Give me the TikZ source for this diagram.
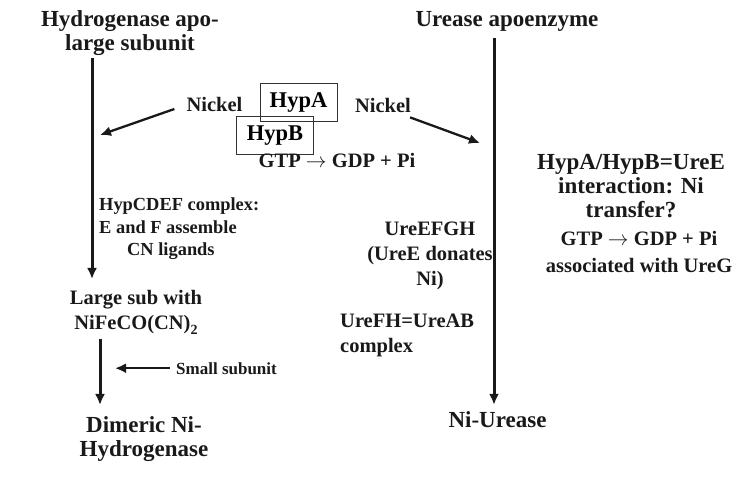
\documentclass[tikz,border=0pt]{standalone}
\usepackage{fontspec}
\setmainfont{Liberation Serif}
\usepackage{tikz}
\usetikzlibrary{arrows.meta}
\usepackage{xcolor}

\begin{document}
\begin{tikzpicture}[x=1pt,y=-1pt]

\tikzset{txt/.style = {inner sep=0pt,text=black!90}}
\tikzset{big/.style = {txt,font=\bfseries\fontsize{23}{24}\selectfont}}
\tikzset{mid/.style = {txt,font=\bfseries\fontsize{20.5}{25}\selectfont}}
\tikzset{small/.style = {txt,font=\bfseries\fontsize{18.4}{22.5}\selectfont}}
\tikzset{hyp/.style = {draw=black!80,line width=1pt,inner sep=0pt,minimum width=77pt,minimum height=38pt,font=\bfseries\fontsize{22.5}{24}\selectfont}}
\tikzset{edge/.style = {->,> = {Latex[length=11pt,width=10pt]},line width=2.3pt,black!90}}
\tikzset{trunk/.style = {edge,line width=3pt}}
\useasboundingbox (0,0) rectangle (750,478);

%hydrogenase side
\node[big,align=center,anchor=north] (hydro) at (130,10) {Hydrogenase apo-\\large subunit};
\node[mid,anchor=base] (nickL) at (214.5,112) {Nickel};
\node[small,align=left,anchor=north west] (hypcdef) at (99,198) {HypCDEF complex:\\E and F assemble\\\hspace*{28pt}CN ligands};
\node[mid,align=center,anchor=north] (large) at (136,290) {Large sub with\\NiFeCO(CN)\raisebox{-5pt}{\fontsize{14}{14}\selectfont 2}};
\node[small,font=\bfseries\fontsize{17}{20}\selectfont,anchor=base west] (small) at (176,374) {Small subunit};
\node[big,align=center,anchor=north] (dimer) at (144,416) {Dimeric Ni-\\Hydrogenase};

%hyp proteins
\node[hyp] (hypB) at (275,135.5) {HypB};
\node[hyp] (hypA) at (298.5,103) {HypA};
\node[mid,anchor=base] (gtpL) at (337,168) {GTP $\rightarrow$ GDP + Pi};

%urease side
\node[big,anchor=base] (urease) at (507,27) {Urease apoenzyme};
\node[mid,anchor=base] (nickR) at (383,113) {Nickel};
\node[mid,align=center,anchor=north] (ureefgh) at (430,222) {UreEFGH\\(UreE donates\\Ni)};
\node[mid,align=left,anchor=north west] (urefh) at (340,314) {UreFH=UreAB\\complex};
\node[big,anchor=base] (niurease) at (497.5,427) {Ni-Urease};
\node[big,align=center,anchor=north] (inter) at (631,154) {HypA/HypB=UreE\\interaction: Ni\\transfer?};
\node[mid,font=\bfseries\fontsize{20.5}{27}\selectfont,align=center,anchor=north] (gtpR) at (639,231) {GTP $\rightarrow$ GDP + Pi\\associated with UreG};

\coordinate (lx) at (92,0);
\coordinate (lx2) at (100,0);
\coordinate (rx) at (494,0);
\coordinate (niL) at (100,135);
\coordinate (niR) at (480,143);
\coordinate (sub) at (115,0);

%edges
\draw[trunk] ([yshift=-3pt]hydro.south -| lx) -- ([yshift=11pt]large.north -| lx);
\draw[edge] ([xshift=-12pt,yshift=-4pt]nickL.west) -- (niL);
\draw[edge] ([xshift=-1pt,yshift=-4pt]nickR.south east) -- (niR);
\draw[trunk] ([yshift=-4pt]large.south -| lx2) -- ([yshift=11pt]dimer.north -| lx2);
\draw[edge] ([xshift=-6pt]small.west) -- (small.west -| sub);
\draw[trunk] ([yshift=-6pt]urease.south -| rx) -- ([yshift=6pt]niurease.north -| rx);
\end{tikzpicture}
\end{document}
